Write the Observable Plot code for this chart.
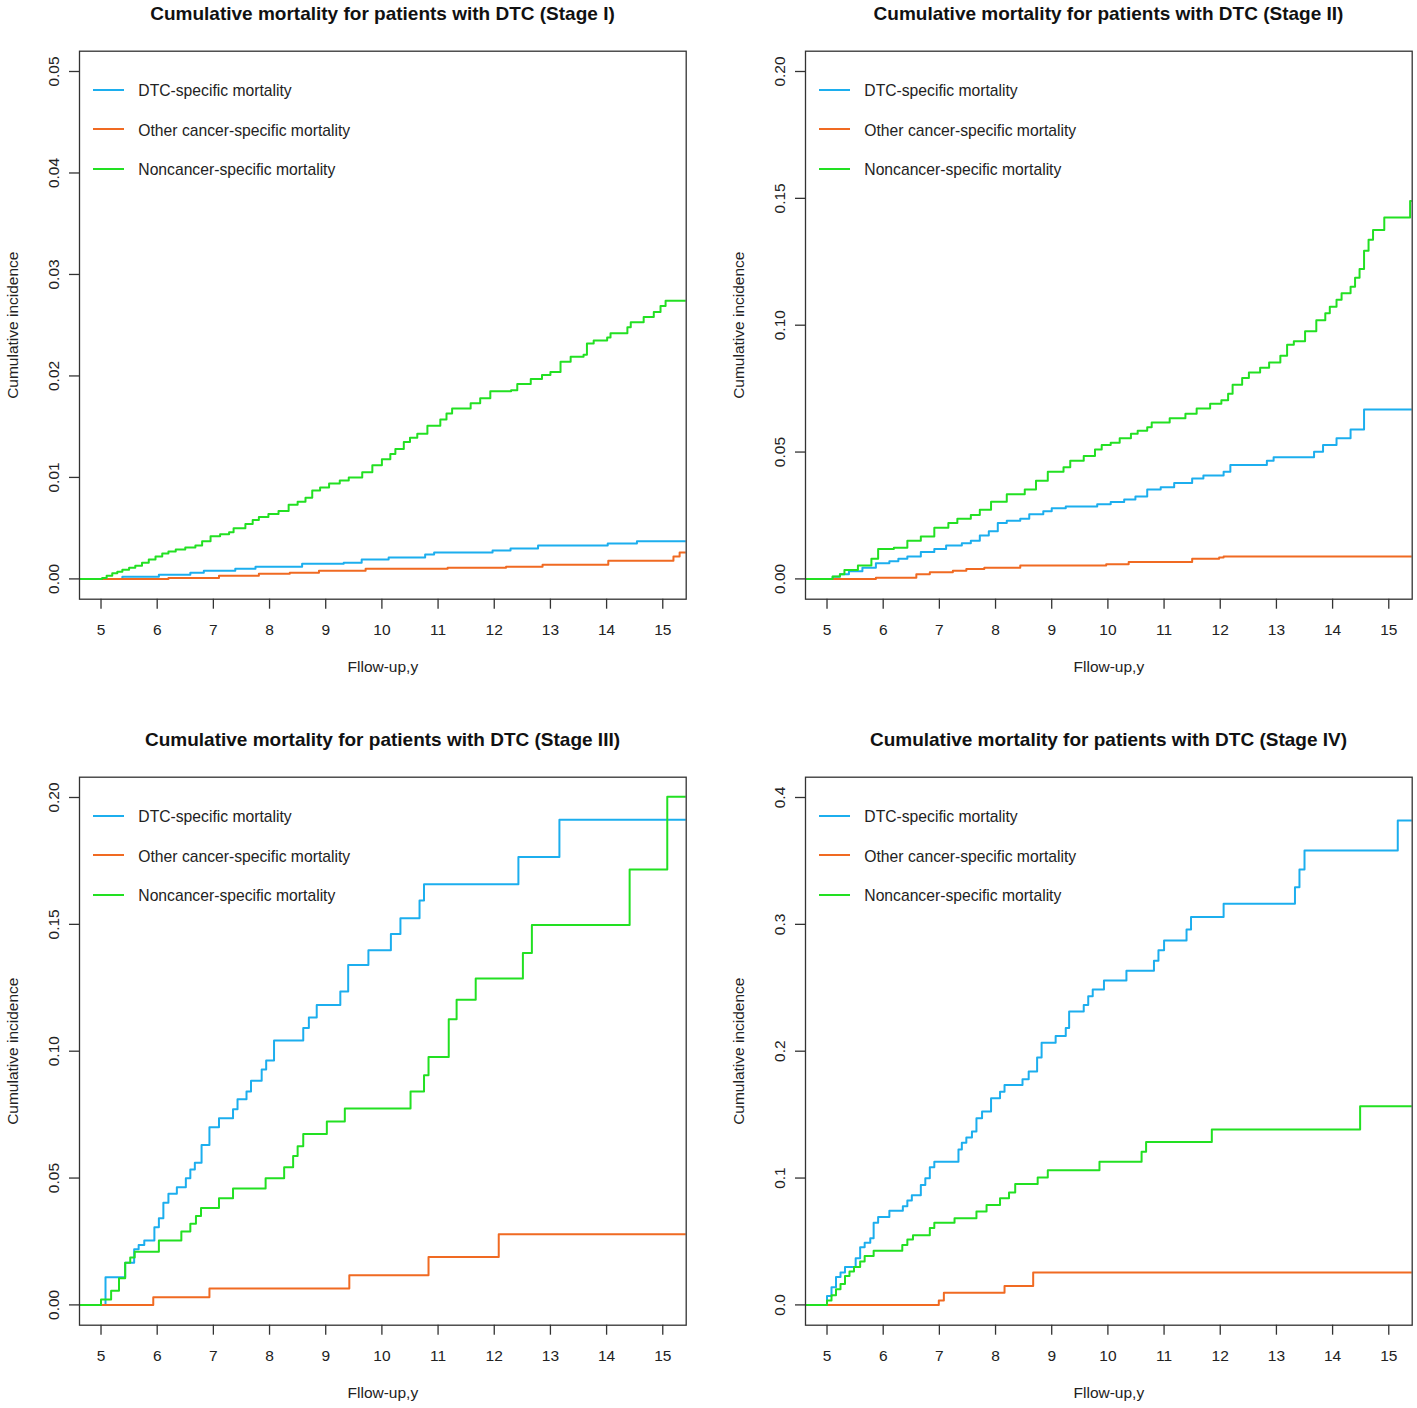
<!DOCTYPE html>
<html><head><meta charset="utf-8">
<script src="https://cdn.jsdelivr.net/npm/d3@7"></script>
<script src="https://cdn.jsdelivr.net/npm/@observablehq/plot@0.6"></script>
<style>
html,body{margin:0;padding:0;background:#fff;}
#page{position:relative;width:1417px;height:1408px;overflow:hidden;font-family:"Liberation Sans",Arial,sans-serif;background:#fff;}
.panel{position:absolute;width:691px;height:682px;}
.title{position:absolute;left:79px;top:0;width:607px;text-align:center;font-weight:bold;font-size:19px;line-height:27px;color:#111;white-space:nowrap;}
.plotwrap{position:absolute;left:0;top:27px;}
.lg-line{position:absolute;left:93.3px;width:31px;height:2px;}
.lg-text{position:absolute;left:138.3px;font-size:15.7px;line-height:20px;color:#222;white-space:nowrap;}
</style>
</head><body>
<div id="page"></div>
<script>
// ---------- data ----------
const xTicks = [5, 6, 7, 8, 9, 10, 11, 12, 13, 14, 15];
const seriesNames = ["DTC-specific mortality", "Other cancer-specific mortality", "Noncancer-specific mortality"];
const seriesColors = ["#1CAEEE", "#F06A22", "#22E022"];
const titles = [
  "Cumulative mortality for patients with DTC (Stage I)",
  "Cumulative mortality for patients with DTC (Stage II)",
  "Cumulative mortality for patients with DTC (Stage III)",
  "Cumulative mortality for patients with DTC (Stage IV)"
];
const yMax = [0.05, 0.20, 0.20, 0.4];
const yTicks1 = [0, 0.01, 0.02, 0.03, 0.04, 0.05];
const yTicks2 = [0, 0.05, 0.10, 0.15, 0.20];
const yTicks3 = [0, 0.05, 0.10, 0.15, 0.20];
const yTicks4 = [0, 0.1, 0.2, 0.3, 0.4];

// Stage I  [time (years), cumulative incidence]
const s1Dtc = [[4.5,0],[5.38,0.0002],[6.03,0.0004],[6.59,0.0006],[6.83,0.0008],[7.39,0.001],[7.75,0.0012],[8.58,0.0015],[9.32,0.0016],[9.64,0.0019],[10.12,0.0021],[10.77,0.0024],[10.93,0.0026],[11.97,0.0028],[12.29,0.003],[12.78,0.0033],[14.02,0.0035],[14.54,0.0037],[15.5,0.0037]];
const s1Other = [[4.5,0],[6.2,0.0001],[7.1,0.0003],[7.81,0.0005],[8.36,0.0006],[8.88,0.0008],[9.71,0.001],[11.17,0.0011],[12.21,0.0012],[12.86,0.0014],[14.03,0.0018],[15.19,0.0022],[15.3,0.0026],[15.5,0.0026]];
const s1Non = [[4.5,0],[5.02,0.0001],[5.1,0.0003],[5.2,0.00056],[5.29,0.0007],[5.38,0.0009],[5.5,0.0011],[5.61,0.0013],[5.73,0.0016],[5.85,0.0019],[5.97,0.0022],[6.09,0.0025],[6.2,0.0027],[6.33,0.0029],[6.5,0.0031],[6.68,0.0033],[6.8,0.0037],[6.95,0.0042],[7.12,0.0044],[7.28,0.0046],[7.36,0.005],[7.57,0.0054],[7.7,0.0058],[7.81,0.0061],[7.98,0.0064],[8.16,0.0067],[8.34,0.0073],[8.5,0.0076],[8.64,0.008],[8.76,0.0087],[8.9,0.009],[9.06,0.0094],[9.25,0.0097],[9.41,0.01],[9.65,0.0105],[9.83,0.0112],[10.0,0.0118],[10.15,0.0123],[10.24,0.0128],[10.39,0.0135],[10.5,0.0139],[10.63,0.0143],[10.81,0.0151],[11.04,0.0157],[11.15,0.0163],[11.25,0.0168],[11.58,0.0173],[11.75,0.0178],[11.93,0.0185],[12.3,0.0186],[12.41,0.0192],[12.65,0.0197],[12.85,0.0201],[13.0,0.0204],[13.18,0.0214],[13.36,0.0219],[13.59,0.0221],[13.65,0.0232],[13.77,0.0235],[14.01,0.0238],[14.07,0.0242],[14.37,0.0248],[14.43,0.0253],[14.66,0.0258],[14.84,0.0263],[14.96,0.0269],[15.05,0.0274],[15.5,0.0274]];

// Stage II
const s2Dtc = [[4.5,0],[5.1,0.0008],[5.23,0.0018],[5.39,0.003],[5.63,0.0044],[5.87,0.0062],[6.11,0.007],[6.27,0.0079],[6.43,0.0088],[6.67,0.0106],[6.91,0.0118],[7.12,0.0132],[7.40,0.0141],[7.56,0.015],[7.72,0.0171],[7.88,0.0188],[8.04,0.022],[8.20,0.0229],[8.44,0.0237],[8.6,0.0255],[8.85,0.0267],[9.0,0.0278],[9.25,0.0285],[9.81,0.0294],[10.05,0.0303],[10.29,0.0313],[10.49,0.0325],[10.70,0.0352],[10.94,0.0361],[11.18,0.0378],[11.5,0.0396],[11.70,0.0408],[12.06,0.0422],[12.18,0.0449],[12.83,0.0466],[12.95,0.048],[13.67,0.0501],[13.83,0.0528],[14.07,0.0554],[14.32,0.0589],[14.56,0.0668],[15.5,0.0668]];
const s2Other = [[4.5,0],[5.87,0.0005],[6.59,0.0018],[6.83,0.0026],[7.24,0.0032],[7.48,0.0039],[7.80,0.0044],[8.44,0.0053],[9.97,0.0058],[10.37,0.0067],[11.5,0.0079],[11.98,0.0084],[12.06,0.0088],[15.5,0.0088]];
const s2Non = [[4.5,0],[5.1,0.0009],[5.23,0.0018],[5.31,0.0035],[5.55,0.0053],[5.79,0.0079],[5.91,0.0118],[6.19,0.0123],[6.43,0.015],[6.67,0.0167],[6.91,0.0202],[7.16,0.022],[7.32,0.0237],[7.56,0.0252],[7.72,0.0273],[7.92,0.0304],[8.2,0.0334],[8.52,0.0352],[8.72,0.0387],[8.93,0.0422],[9.21,0.044],[9.33,0.0466],[9.57,0.0484],[9.77,0.051],[9.89,0.0528],[10.05,0.0537],[10.21,0.0554],[10.41,0.0572],[10.53,0.0584],[10.70,0.0598],[10.78,0.0616],[11.1,0.0633],[11.38,0.0651],[11.58,0.0672],[11.82,0.069],[12.02,0.0704],[12.14,0.073],[12.22,0.0765],[12.39,0.0792],[12.51,0.0814],[12.71,0.0832],[12.87,0.0853],[13.07,0.088],[13.19,0.0923],[13.31,0.0937],[13.51,0.0976],[13.71,0.102],[13.87,0.1047],[13.95,0.1073],[14.07,0.11],[14.16,0.1126],[14.32,0.1152],[14.4,0.1187],[14.48,0.1222],[14.56,0.1293],[14.64,0.1337],[14.72,0.1375],[14.92,0.1425],[15.38,0.149],[15.5,0.149]];

// Stage III
const s3Dtc = [[4.5,0],[5.08,0.0109],[5.43,0.0166],[5.59,0.0219],[5.67,0.0236],[5.77,0.0254],[5.95,0.0306],[6.03,0.0342],[6.11,0.0403],[6.20,0.0438],[6.35,0.0464],[6.51,0.0499],[6.59,0.0534],[6.67,0.056],[6.79,0.063],[6.93,0.07],[7.10,0.0736],[7.35,0.0771],[7.43,0.0811],[7.59,0.0841],[7.67,0.0884],[7.86,0.0928],[7.94,0.0963],[8.08,0.1042],[8.60,0.1091],[8.70,0.1133],[8.84,0.1182],[9.26,0.1235],[9.40,0.134],[9.76,0.1398],[10.16,0.1462],[10.33,0.1524],[10.67,0.1594],[10.75,0.1658],[12.43,0.1765],[13.16,0.1912],[15.5,0.1912]];
const s3Other = [[4.5,0],[5.93,0.003],[6.93,0.0065],[9.42,0.0117],[10.83,0.0189],[12.08,0.0278],[15.5,0.0278]];
const s3Non = [[4.5,0],[5.0,0.0021],[5.18,0.0056],[5.32,0.0105],[5.43,0.0166],[5.52,0.0187],[5.6,0.021],[6.03,0.0254],[6.43,0.0289],[6.59,0.032],[6.69,0.035],[6.78,0.0382],[7.10,0.042],[7.35,0.0459],[7.93,0.0499],[8.26,0.0543],[8.42,0.0587],[8.50,0.0625],[8.60,0.0674],[9.02,0.0723],[9.34,0.0774],[10.51,0.0841],[10.75,0.0905],[10.83,0.0977],[11.19,0.1126],[11.33,0.1203],[11.67,0.1287],[12.51,0.1387],[12.67,0.1497],[14.41,0.1716],[15.08,0.2003],[15.5,0.2003]];

// Stage IV
const s4Dtc = [[4.5,0],[5.0,0.007],[5.08,0.014],[5.16,0.022],[5.24,0.0256],[5.32,0.0298],[5.51,0.0368],[5.59,0.0455],[5.67,0.049],[5.77,0.0525],[5.83,0.0648],[5.91,0.0693],[6.11,0.0743],[6.35,0.0778],[6.43,0.0823],[6.51,0.0865],[6.67,0.0946],[6.75,0.0998],[6.83,0.1086],[6.91,0.1128],[7.34,0.1226],[7.40,0.1278],[7.48,0.132],[7.58,0.1366],[7.66,0.1471],[7.76,0.1524],[7.92,0.1629],[8.08,0.1681],[8.16,0.1734],[8.48,0.1779],[8.59,0.1839],[8.74,0.1951],[8.82,0.2066],[9.07,0.2119],[9.25,0.2182],[9.31,0.2312],[9.57,0.2364],[9.65,0.2434],[9.73,0.2487],[9.93,0.2557],[10.33,0.2634],[10.82,0.2714],[10.90,0.2795],[11.0,0.2872],[11.40,0.296],[11.48,0.3058],[12.06,0.3163],[13.33,0.3292],[13.41,0.3432],[13.50,0.3583],[15.16,0.3818],[15.5,0.3818]];
const s4Other = [[4.5,0],[6.99,0.0035],[7.08,0.0095],[8.16,0.015],[8.67,0.0256],[15.5,0.0256]];
const s4Non = [[4.5,0],[5.0,0.0035],[5.08,0.0077],[5.16,0.0123],[5.24,0.0165],[5.32,0.0228],[5.40,0.0263],[5.48,0.0298],[5.59,0.0343],[5.67,0.0385],[5.83,0.0427],[6.34,0.0473],[6.43,0.0515],[6.53,0.055],[6.83,0.0606],[6.91,0.0648],[7.27,0.0683],[7.66,0.0736],[7.84,0.0788],[8.08,0.0841],[8.24,0.0886],[8.35,0.0953],[8.75,0.1005],[8.93,0.1061],[9.85,0.1128],[10.60,0.1208],[10.68,0.1285],[11.85,0.1383],[14.49,0.1566],[15.5,0.1566]];

// ---------- drawing ----------
const panels = [
  {left: 0,   top: 0,   title: titles[0], max: yMax[0], ticks: yTicks1, fmt: d3.format(".2f"), series: [s1Dtc, s1Other, s1Non]},
  {left: 726, top: 0,   title: titles[1], max: yMax[1], ticks: yTicks2, fmt: d3.format(".2f"), series: [s2Dtc, s2Other, s2Non]},
  {left: 0,   top: 726, title: titles[2], max: yMax[2], ticks: yTicks3, fmt: d3.format(".2f"), series: [s3Dtc, s3Other, s3Non]},
  {left: 726, top: 726, title: titles[3], max: yMax[3], ticks: yTicks4, fmt: d3.format(".1f"), series: [s4Dtc, s4Other, s4Non]}
];

const page = document.getElementById("page");
const legendRows = [89.5, 129.2, 168.8];

for (const p of panels) {
  const div = document.createElement("div");
  div.className = "panel";
  div.style.left = p.left + "px";
  div.style.top = p.top + "px";

  const t = document.createElement("div");
  t.className = "title";
  t.textContent = p.title;
  div.appendChild(t);

  const lineMarks = p.series.map((s, i) => Plot.line(s, {
    x: d => d[0], y: d => d[1], curve: "step-after",
    stroke: seriesColors[i], strokeWidth: 2, clip: true
  }));

  const chart = Plot.plot({
    width: 691, height: 655,
    marginLeft: 79, marginRight: 5.3, marginTop: 23.7, marginBottom: 83.3,
    x: {domain: [4.617, 15.417]},
    y: {domain: [-0.04 * p.max, 1.04 * p.max]},
    style: {fontFamily: "'Liberation Sans', Arial, sans-serif", fontSize: "15.5px", background: "white", color: "#222"},
    marks: [
      ...lineMarks,
      Plot.frame({stroke: "#333", strokeWidth: 1.3}),
      Plot.axisX({ticks: xTicks, tickSize: 10, tickPadding: 14.8, tickFormat: d => String(d), stroke: "#333", strokeWidth: 1.3, fill: "#222", label: null}),
      Plot.axisY({ticks: p.ticks, tickSize: 10, tickPadding: 11, tickRotate: -90, tickFormat: p.fmt, stroke: "#333", strokeWidth: 1.3, fill: "#222", label: null}),
      Plot.text(["Fllow-up,y"], {text: d => d, frameAnchor: "bottom", dy: 68.3, lineAnchor: "middle", textAnchor: "middle", fill: "#222"}),
      Plot.text(["Cumulative incidence"], {text: d => d, frameAnchor: "left", dx: -66.4, rotate: -90, lineAnchor: "middle", textAnchor: "middle", fill: "#222"})
    ]
  });
  const wrap = document.createElement("div");
  wrap.className = "plotwrap";
  wrap.appendChild(chart);
  div.appendChild(wrap);

  seriesNames.forEach((name, i) => {
    const ln = document.createElement("div");
    ln.className = "lg-line";
    ln.style.top = (legendRows[i] - 1) + "px";
    ln.style.background = seriesColors[i];
    div.appendChild(ln);
    const tx = document.createElement("div");
    tx.className = "lg-text";
    tx.style.top = (legendRows[i] - 8.5) + "px";
    tx.textContent = name;
    div.appendChild(tx);
  });

  page.appendChild(div);
}
</script>
</body></html>
